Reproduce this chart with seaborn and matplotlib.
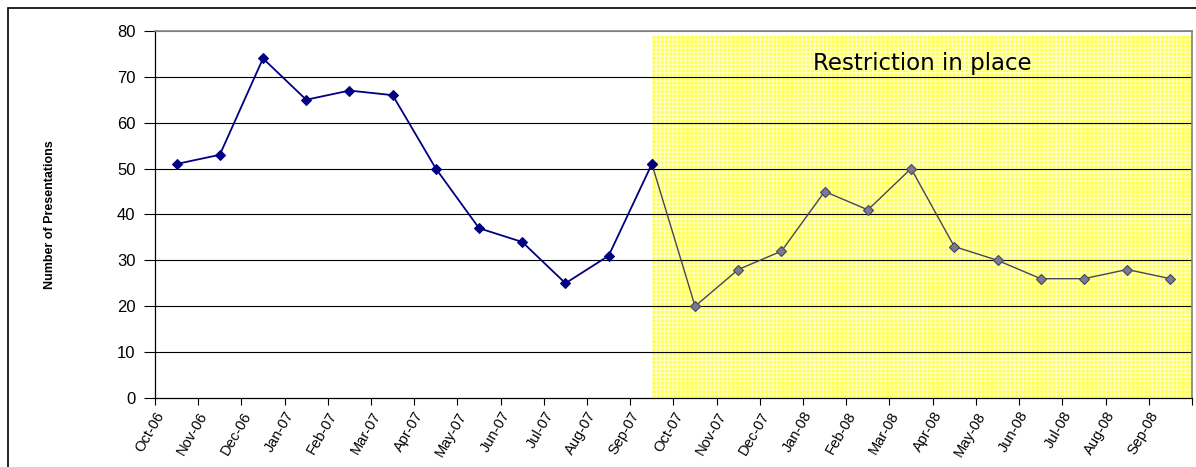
import pandas as pd
import numpy as np
import matplotlib
matplotlib.use('Agg')
import matplotlib.pyplot as plt
import seaborn as sns
from matplotlib.patches import Rectangle

months = ['Oct-06', 'Nov-06', 'Dec-06', 'Jan-07', 'Feb-07', 'Mar-07', 'Apr-07', 'May-07',
          'Jun-07', 'Jul-07', 'Aug-07', 'Sep-07', 'Oct-07', 'Nov-07', 'Dec-07', 'Jan-08',
          'Feb-08', 'Mar-08', 'Apr-08', 'May-08', 'Jun-08', 'Jul-08', 'Aug-08', 'Sep-08']
before = [51, 53, 74, 65, 67, 66, 50, 37, 34, 25, 31, 51]
after = [20, 28, 32, 45, 41, 50, 33, 30, 26, 26, 28, 26]
yticks = [0, 10, 20, 30, 40, 50, 60, 70, 80]

sns.set_style('white')
plt.rcParams['font.family'] = ['Liberation Sans', 'DejaVu Sans']
plt.rcParams['text.color'] = 'black'
plt.rcParams['axes.labelcolor'] = 'black'
plt.rcParams['xtick.color'] = 'black'
plt.rcParams['ytick.color'] = 'black'

df_before = pd.DataFrame({'pos': np.arange(len(before)), 'value': before})
# restriction series starts from the last "before" point
df_after = pd.DataFrame({'pos': np.arange(len(before) - 1, len(months)),
                         'value': [before[-1]] + after})

fig = plt.figure(figsize=(11.96, 4.67), dpi=100)
ax = fig.add_axes([0.1296, 0.1478, 0.867, 0.786])

# shaded restriction period
start = len(before) - 1
ax.add_patch(Rectangle((start, 0), len(months) - 0.5 - start, 79.2,
                       facecolor='#ffff50', edgecolor='#ffffc0', hatch='++++',
                       linewidth=0, zorder=1))
ax.text((start + len(months) - 0.5) / 2, 73, 'Restriction in place',
        fontsize=16.5, family='DejaVu Sans', ha='center', va='center', zorder=5)

for y in yticks[1:]:
    ax.axhline(y, color='#808080' if y == 80 else 'black', lw=0.8, zorder=2)

sns.lineplot(data=df_after, x='pos', y='value', ax=ax, color='#45455a', lw=1.0,
             marker='D', markersize=5.5, markerfacecolor='#7a7a96',
             markeredgecolor='#45455a', markeredgewidth=0.8, zorder=3)
sns.lineplot(data=df_before, x='pos', y='value', ax=ax, color='#000080', lw=1.3,
             marker='D', markersize=5.5, markerfacecolor='#000080',
             markeredgecolor='#000080', zorder=4)

ax.set_xlim(-0.5, len(months) - 0.5)
ax.set_ylim(0, 80)
ax.set_yticks(yticks)
ax.set_yticklabels([str(v) for v in yticks], fontsize=12)
ax.set_xticks(np.arange(len(months) + 1) - 0.5)
ax.set_xticklabels(months + [''], rotation=60, ha='right', va='top',
                   rotation_mode='anchor', fontsize=10.5)
ax.tick_params(axis='y', length=8, width=0.8, direction='out', pad=6, left=True)
ax.tick_params(axis='x', length=5, width=0.8, direction='out', pad=3, bottom=True)
ax.set_xlabel('')
ax.set_ylabel('Number of Presentations', fontsize=9, fontweight='bold', labelpad=44)

for side in ['left', 'bottom']:
    ax.spines[side].set_color('black')
    ax.spines[side].set_linewidth(0.9)
for side in ['top', 'right']:
    ax.spines[side].set_color('#808080')
    ax.spines[side].set_linewidth(1.2)

# outer chart frame
fig.patches.append(Rectangle((8 / 1196, -0.1), 1.2, (459 / 467) + 0.1,
                             transform=fig.transFigure, fill=False,
                             edgecolor='black', lw=1.2, clip_on=False))

fig.savefig('out.png', dpi=100)
